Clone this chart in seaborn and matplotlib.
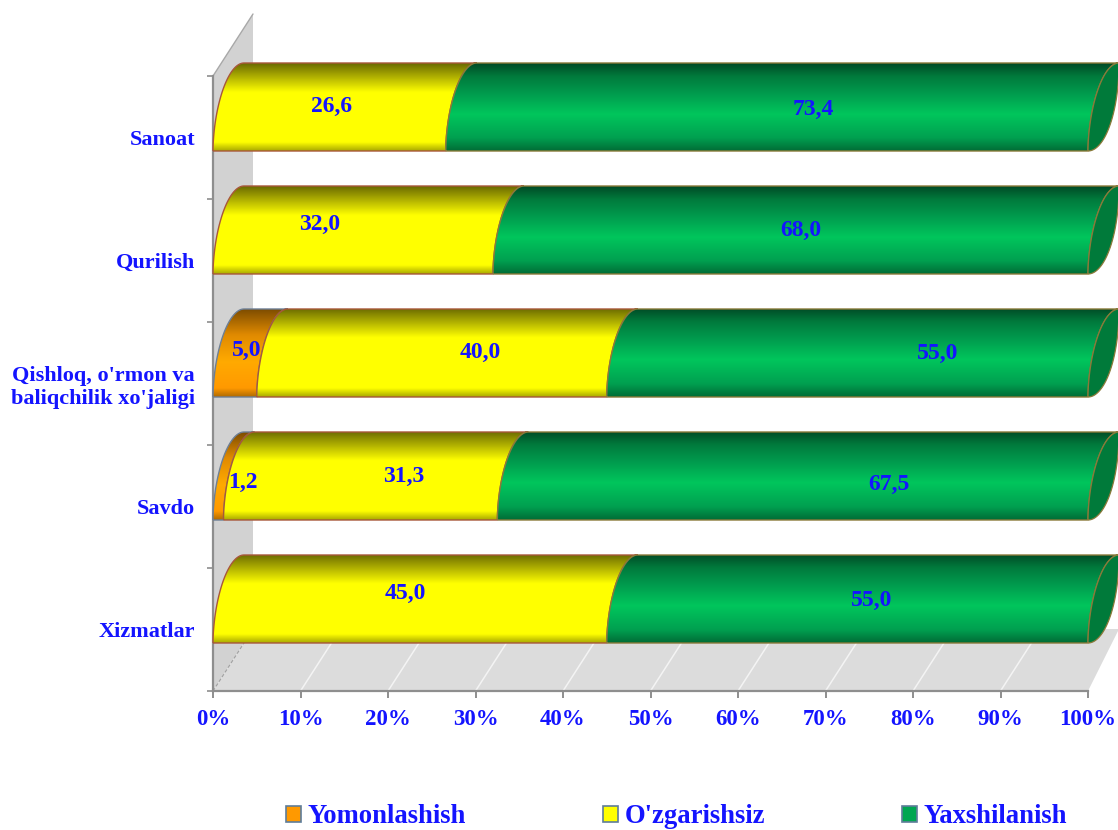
import numpy as np
import pandas as pd
import seaborn as sns
import matplotlib
matplotlib.use("Agg")
import matplotlib.pyplot as plt
from matplotlib.colors import LinearSegmentedColormap
from matplotlib.patches import Patch, PathPatch, Polygon
from matplotlib.path import Path

categories = ["Sanoat", "Qurilish", "Qishloq, o'rmon va\nbaliqchilik xo'jaligi", "Savdo", "Xizmatlar"]
yomonlashish = [0.0, 0.0, 5.0, 1.2, 0.0]
ozgarishsiz = [26.6, 32.0, 40.0, 31.3, 45.0]
yaxshilanish = [73.4, 68.0, 55.0, 67.5, 55.0]
series_names = ["Yomonlashish", "O'zgarishsiz", "Yaxshilanish"]
value_labels = {
    "Yomonlashish": ["", "", "5,0", "1,2", ""],
    "O'zgarishsiz": ["26,6", "32,0", "40,0", "31,3", "45,0"],
    "Yaxshilanish": ["73,4", "68,0", "55,0", "67,5", "55,0"],
}
tick_labels = [f"{v}%" for v in range(0, 101, 10)]

# hand-placed label nudges of the original, in pixels from the segment centre
nudges = {
    "Yomonlashish": [(0, 0), (0, 0), (12, -3), (25, 6), (0, 0)],
    "O'zgarishsiz": [(2, -1), (-33, -6), (49, -1), (43, 0), (-5, -6)],
    "Yaxshilanish": [(46, 2), (10, 0), (90, 0), (96, 8), (24, 1)],
}

W, H = 1118, 830
BLUE = "#1414ff"
SERIF = "Liberation Serif"
sns.set_theme(style="white")
plt.rcParams["font.family"] = SERIF

fig = plt.figure(figsize=(W / 100, H / 100), dpi=100, facecolor="white")
ax = fig.add_axes([213 / W, (H - 691) / H, 875 / W, 615 / H])
ax.patch.set_visible(False)

PX_X = 100 / 875
PX_Y = 1 / 123
lefts = {
    "Yomonlashish": np.zeros(5),
    "O'zgarishsiz": np.array(yomonlashish),
    "Yaxshilanish": np.array(yomonlashish) + np.array(ozgarishsiz),
}
values = dict(zip(series_names, [yomonlashish, ozgarishsiz, yaxshilanish]))
colors = {"Yomonlashish": "#ff9900", "O'zgarishsiz": "#ffff00", "Yaxshilanish": "#00b050"}
edges = {"Yomonlashish": "#6d7f96", "O'zgarishsiz": "#a8573a", "Yaxshilanish": "#8a7a3a"}
cmaps = {
    "Yomonlashish": LinearSegmentedColormap.from_list("o", [(0, "#7a4a00"), (.30, "#e08a00"), (.6, "#ffaa00"), (.9, "#ff9900"), (1, "#b06a00")]),
    "O'zgarishsiz": LinearSegmentedColormap.from_list("y", [(0, "#6a6a00"), (.12, "#a0a000"), (.33, "#ffff00"), (.90, "#ffff00"), (1, "#a8a800")]),
    "Yaxshilanish": LinearSegmentedColormap.from_list("g", [(0, "#004a26"), (.15, "#007a3c"), (.35, "#009c4e"), (.58, "#00c65c"), (.85, "#00a050"), (1, "#006c36")]),
}

bars = {}
for name in series_names:
    before = len(ax.patches)
    df = pd.DataFrame({"sector": categories, "share": values[name]})
    sns.barplot(data=df, x="share", y="sector", left=lefts[name], orient="h",
                color=colors[name], saturation=1, width=88 / 123, ax=ax)
    bars[name] = list(ax.patches)[before:]

y_bottom = (691 - 107) / 123
y_top = (76 - 107) / 123
ax.set_xlim(0, 100)
ax.set_ylim(y_bottom, y_top)

# 3-D shell: wall, floor, floor grid
WALL_X, WALL_Y = 40 * PX_X, 62 * PX_Y
wall = Polygon([(0, y_top), (WALL_X, y_top - WALL_Y), (WALL_X, y_bottom - WALL_Y), (0, y_bottom)],
               closed=True, fc="#d2d2d2", ec="none", clip_on=False, zorder=0.5)
floor = Polygon([(0, y_bottom), (WALL_X, y_bottom - WALL_Y), (100 + 31 * PX_X, y_bottom - WALL_Y), (100, y_bottom)],
                closed=True, fc="#dcdcdc", ec="none", clip_on=False, zorder=0.6)
ax.add_patch(wall)
ax.add_patch(floor)
ax.plot([0, WALL_X], [y_top, y_top - WALL_Y], color="#a8a8a8", lw=1, clip_on=False, zorder=0.7)
for v in range(10, 100, 10):
    ax.plot([v, v + WALL_X], [y_bottom, y_bottom - WALL_Y], color="#f4f4f4", lw=1.1, clip_on=False, zorder=0.8)
ax.plot([0, WALL_X * .8], [y_bottom, y_bottom - WALL_Y * .8], color="#a0a0a0", lw=.8, ls=(0, (3, 2)), clip_on=False, zorder=0.8)

# cylinders built from the bars seaborn laid out
DX = 31 * PX_X
t = np.linspace(0, np.pi / 2, 40)
gradient = np.linspace(0, 1, 256).reshape(-1, 1)
bulge = (1 - np.cos(t)) ** 0.9


def cylinder(x0, x1, top, bottom):
    height = bottom - top
    left_arc = np.c_[x0 + DX * bulge, bottom - height * np.sin(t)]
    right_arc = np.c_[x1 + DX * bulge, bottom - height * np.sin(t)][::-1]
    return np.vstack([left_arc, right_arc, left_arc[:1]])


for k, name in enumerate(series_names):
    for bar in bars[name]:
        bar.set_visible(False)
        x0, w = bar.get_x(), bar.get_width()
        if w <= 0:
            continue
        top, bottom = bar.get_y(), bar.get_y() + bar.get_height()
        pts = cylinder(x0, x0 + w, top, bottom)
        im = ax.imshow(gradient, cmap=cmaps[name], aspect="auto", origin="upper",
                       extent=(x0, x0 + w + DX, bottom, top), zorder=3 + k * .2, vmin=0, vmax=1)
        im.set_clip_path(PathPatch(Path(pts), transform=ax.transData))
        im.set_clip_box(fig.bbox)
        outline = PathPatch(Path(pts), fc="none", ec=edges[name], lw=1, clip_on=False,
                            zorder=3.1 + k * .2, transform=ax.transData)
        ax.add_patch(outline)
        if name == "Yaxshilanish":
            x1 = x0 + w
            height = bottom - top
            right = np.c_[x1 + DX * np.cos(t), top + height * np.sin(t)]
            left = np.c_[x1 + DX * bulge, bottom - height * np.sin(t)]
            cap = PathPatch(Path(np.vstack([left, right])), fc="#007a3a", ec=edges[name], lw=.9,
                            clip_on=False, zorder=3.8)
            ax.add_patch(cap)

ax.set_xlim(0, 100)
ax.set_ylim(y_bottom, y_top)

# value labels
for name in series_names:
    for i, bar in enumerate(bars[name]):
        text = value_labels[name][i]
        if not text:
            continue
        ox, oy = nudges[name][i]
        ax.text(bar.get_x() + bar.get_width() / 2 + ox * PX_X, i + oy * PX_Y, text,
                ha="center", va="center", color=BLUE, fontsize=17, fontweight="bold",
                family=SERIF, zorder=5, clip_on=False)

# axes
for s in ["top", "right"]:
    ax.spines[s].set_visible(False)
for s in ["left", "bottom"]:
    ax.spines[s].set_color("#8e8e8e")
    ax.spines[s].set_linewidth(1.6)
    ax.spines[s].set_zorder(2)
ax.set_xlabel("")
ax.set_ylabel("")
ax.set_xticks(range(0, 101, 10), tick_labels)
ax.set_yticks(np.arange(6) + y_top, [""] * 6)
ax.set_yticks(np.arange(5) + y_top + .5, categories, minor=True)
ax.tick_params(axis="x", length=5, width=1.4, color="#8e8e8e", pad=8, labelsize=16.5,
               labelcolor=BLUE, bottom=True)
ax.tick_params(axis="y", which="major", length=4, width=1.2, color="#8e8e8e", left=True)
ax.tick_params(axis="y", which="minor", length=0, pad=13, labelsize=16, labelcolor=BLUE)
for lab in ax.get_xticklabels() + ax.get_yticklabels(minor=True):
    lab.set_fontweight("bold")
    lab.set_family(SERIF)
for lab in ax.get_yticklabels(minor=True):
    lab.set_multialignment("center")
    lab.set_linespacing(1.2)

# legend
handles = [Patch(fc=colors[n], ec="#5f7d99", lw=1.2) for n in series_names]
handles[2] = Patch(fc="#00a651", ec="#5f7d99", lw=1.2)
fs = 19.2
leg = fig.legend(handles, series_names, loc="lower left", ncol=3, frameon=False,
                 bbox_to_anchor=(286 / W, 1 / H), bbox_transform=fig.transFigure, borderpad=0, borderaxespad=0,
                 handlelength=.55, handleheight=.55, handletextpad=.25, columnspacing=5.15,
                 prop={"family": SERIF, "weight": "bold", "size": fs})
for txt in leg.get_texts():
    txt.set_color(BLUE)

fig.savefig("out.png", dpi=100)
